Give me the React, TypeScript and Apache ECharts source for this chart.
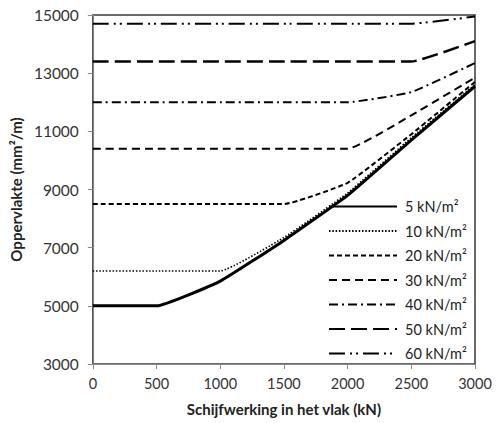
import React, { useEffect, useRef } from "react";
import * as echarts from "echarts";

const xValues = [0, 500, 1000, 1500, 2000, 2500, 3000];
const seriesNames = ["5 kN/m²", "10 kN/m²", "20 kN/m²", "30 kN/m²", "40 kN/m²", "50 kN/m²", "60 kN/m²"];
const s5 = [5000, 5000, 5850, 7250, 8800, 10700, 12550];
const s10 = [6200, 6200, 6200, 7350, 8880, 10780, 12600];
const s20 = [8500, 8500, 8500, 8500, 9230, 10900, 12700];
const s30 = [10400, 10400, 10400, 10400, 10400, 11550, 12850];
const s40 = [12000, 12000, 12000, 12000, 12000, 12350, 13350];
const s50 = [13400, 13400, 13400, 13400, 13400, 13400, 14100];
const s60 = [14700, 14700, 14700, 14700, 14700, 14700, 14950];
const allSeries = [s5, s10, s20, s30, s40, s50, s60];

const FONT = "Lato, 'Open Sans', sans-serif";

const lineStyles: any[] = [
  { width: 3, type: "solid" },
  { width: 1.6, type: [1.5, 1.8] },
  { width: 2, type: [5, 3] },
  { width: 2, type: [8, 5] },
  { width: 2, type: [9, 4, 2, 4] },
  { width: 2.4, type: [16, 6] },
  { width: 2, type: [16, 5, 2, 4, 2, 5] },
];

export default function App() {
  const ref = useRef<HTMLDivElement>(null);
  useEffect(() => {
    if (!ref.current) return;
    const chart = echarts.init(ref.current, null, { renderer: "svg" });
    chart.setOption({
      animation: false,
      backgroundColor: "#ffffff",
      textStyle: { fontFamily: FONT },
      grid: {
        left: 92,
        right: 21,
        top: 15,
        bottom: 59,
        show: true,
        borderColor: "#3a3a3a",
        borderWidth: 1.5,
      },
      legend: {
        data: seriesNames,
        orient: "vertical",
        left: 326,
        top: 199,
        itemWidth: 68,
        itemHeight: 14,
        itemGap: 9.5,
        backgroundColor: "#ffffff",
        padding: [0, 2, 0, 2],
        itemStyle: { opacity: 0 },
        textStyle: { fontFamily: FONT, fontSize: 14.5, color: "#222", padding: [0, 0, 0, 3] },
      },
      xAxis: {
        type: "value",
        min: 0,
        max: 3000,
        interval: 500,
        name: "Schijfwerking in het vlak (kN)",
        nameLocation: "middle",
        nameGap: 37,
        nameTextStyle: { fontFamily: FONT, fontSize: 15, fontWeight: "bold", color: "#222" },
        axisLine: { show: true, lineStyle: { color: "#8a8a8a", width: 1.2 } },
        axisTick: { show: true, length: 5, lineStyle: { color: "#8a8a8a" } },
        axisLabel: { fontFamily: FONT, fontSize: 14.5, color: "#333", margin: 12, formatter: (v: number) => String(v) },
        splitLine: { show: false },
      },
      yAxis: {
        type: "value",
        min: 3000,
        max: 15000,
        interval: 2000,
        name: "Oppervlakte (mm²/m)",
        nameLocation: "middle",
        nameGap: 62,
        nameTextStyle: { fontFamily: FONT, fontSize: 15, fontWeight: "bold", color: "#222" },
        axisLine: { show: true, lineStyle: { color: "#8a8a8a", width: 1.2 } },
        axisTick: { show: true, length: 5, lineStyle: { color: "#8a8a8a" } },
        axisLabel: { fontFamily: FONT, fontSize: 15.5, color: "#333", margin: 14, formatter: (v: number) => String(v) },
        splitLine: { show: false },
      },
      series: allSeries.map((vals, i) => ({
        name: seriesNames[i],
        type: "line",
        data: vals.map((v, j) => [xValues[j], v]),
        symbol: "none",
        smooth: 0.12,
        lineStyle: { color: "#000000", ...lineStyles[i] },
        itemStyle: { color: "#000000" },
        z: 10 - i,
      })),
    });
    return () => chart.dispose();
  }, []);
  return (
    <div
      ref={ref}
      style={{ position: "fixed", left: 0, top: 0, width: 496, height: 423 }}
    />
  );
}
